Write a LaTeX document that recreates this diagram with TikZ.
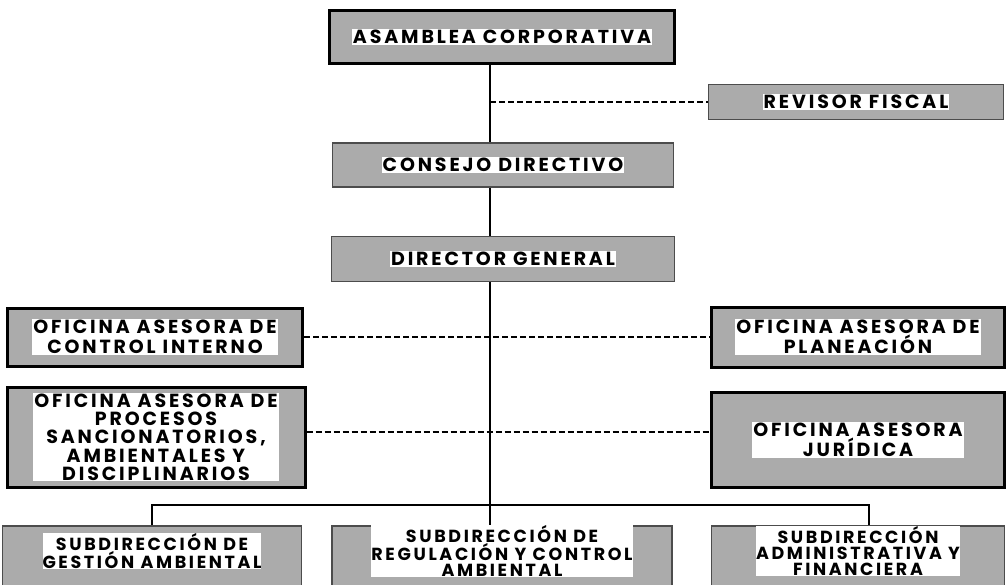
\documentclass[tikz,border=0pt]{standalone}
\usepackage{fontspec}
\newfontfamily\orgfont[LetterSpace=15]{Poppins}
\usetikzlibrary{calc}

\tikzset{
  orgbox/.style={draw=black!70, line width=1.4pt, fill=black!33, inner sep=0pt},
  heavybox/.style={orgbox, draw=black, line width=3pt},
  orgtext/.style={fill=white, inner sep=1pt, align=center,
    font=\fontsize{19}{19.5}\selectfont\orgfont\bfseries},
  tighttext/.style={orgtext, font=\fontsize{19}{18.3}\selectfont\orgfont\bfseries},
  subtext/.style={orgtext, inner sep=0pt, yshift=7pt, font=\fontsize{17.5}{16}\selectfont\orgfont\bfseries},
  link/.style={line width=1.6pt},
  aux/.style={line width=1.1pt, dash pattern=on 6pt off 3pt}
}

\begin{document}
\begin{tikzpicture}[x=1pt, y=-1pt]
    \useasboundingbox (0,0) rectangle (1006,584);
    \coordinate (trunk) at (490,0);
    \coordinate (bus) at (490,505);

    % direccion
    \node[heavybox, minimum width=345, minimum height=53, label={[orgtext]center:ASAMBLEA CORPORATIVA}] (asam) at (502,37) {};
    \node[orgbox, minimum width=295, minimum height=35, label={[orgtext]center:REVISOR FISCAL}] (revisor) at (856,102) {};
    \node[orgbox, minimum width=341, minimum height=44, label={[orgtext]center:CONSEJO DIRECTIVO}] (consejo) at (503,165) {};
    \node[orgbox, minimum width=343, minimum height=45, label={[orgtext]center:DIRECTOR GENERAL}] (director) at (503,259) {};

    % oficinas asesoras
    \node[heavybox, minimum width=295, minimum height=58, label={[orgtext]center:{OFICINA ASESORA DE\\CONTROL INTERNO}}] (control) at (155,337) {};
    \node[heavybox, minimum width=293, minimum height=60, label={[orgtext]center:{OFICINA ASESORA DE\\PLANEACIÓN}}] (planeacion) at (858,337) {};
    \node[heavybox, minimum width=298, minimum height=100, label={[tighttext]center:{OFICINA ASESORA DE\\PROCESOS\\SANCIONATORIOS,\\AMBIENTALES Y\\DISCIPLINARIOS}}] (procesos) at (156,437) {};
    \node[heavybox, minimum width=293, minimum height=95, label={[orgtext]center:{OFICINA ASESORA\\JURÍDICA}}] (juridica) at (858,440) {};

    % subdirecciones
    \node[orgbox, minimum width=299, minimum height=64, label={[subtext]center:{SUBDIRECCIÓN DE\\GESTIÓN AMBIENTAL}}] (gestion) at (152,558) {};
    \node[orgbox, minimum width=340, minimum height=64, label={[subtext]center:{SUBDIRECCIÓN DE\\REGULACIÓN Y CONTROL\\AMBIENTAL}}] (regulacion) at (502,558) {};
    \node[orgbox, minimum width=293, minimum height=64, label={[subtext]center:{SUBDIRECCIÓN\\ADMINISTRATIVA Y\\FINANCIERA}}] (financiera) at (858,558) {};

    % lineas
    \draw[link] (asam.south -| trunk) -- (consejo.north -| trunk);
    \draw[link] (consejo.south -| trunk) -- (director.north -| trunk);
    \draw[link] (director.south -| trunk) -- (regulacion.north -| trunk);
    \draw[link] (gestion.north) |- (bus) -| ([xshift=11pt]financiera.north);
    \draw[aux] (revisor.west -| trunk) -- (revisor.west);
    \draw[aux] (control.east) -- (planeacion.west);
    \draw[aux] ([yshift=5pt]procesos.east) -- ([yshift=5pt]procesos.east -| juridica.west);
\end{tikzpicture}
\end{document}
